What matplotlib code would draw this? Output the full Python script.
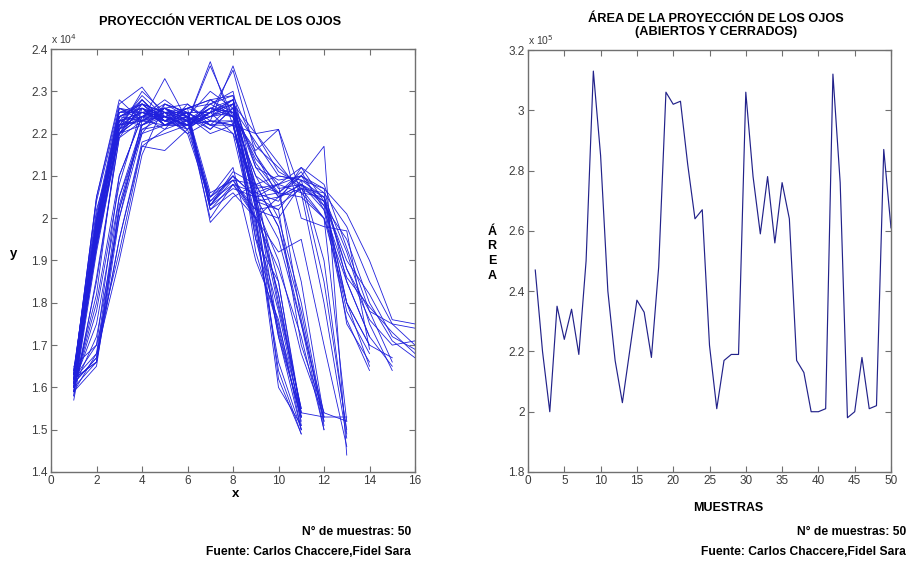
import numpy as np
import matplotlib
matplotlib.use("Agg")
import matplotlib.pyplot as plt
from matplotlib.ticker import FormatStrFormatter

plt.rcParams['font.family'] = ['Liberation Sans', 'DejaVu Sans']

# ---- left chart: vertical projection profiles (values x 10^4) ----
proyecciones = [
    # profiles that end at x = 11
    [1.62, 2.00, 2.25, 2.27, 2.25, 2.23, 2.26, 2.28, 2.02, 1.72, 1.50],
    [1.60, 1.80, 2.10, 2.24, 2.26, 2.24, 2.20, 2.22, 1.98, 1.78, 1.53],
    [1.58, 1.92, 2.20, 2.28, 2.23, 2.21, 2.25, 2.24, 2.05, 1.62, 1.49],
    [1.63, 2.05, 2.28, 2.23, 2.22, 2.22, 2.27, 2.29, 1.95, 1.75, 1.54],
    [1.61, 1.75, 2.05, 2.20, 2.27, 2.25, 2.21, 2.26, 2.08, 1.80, 1.55],
    [1.59, 1.96, 2.24, 2.26, 2.24, 2.20, 2.23, 2.23, 2.00, 1.60, 1.51],
    [1.64, 2.02, 2.21, 2.30, 2.25, 2.26, 2.24, 2.27, 1.92, 1.74, 1.52],
    [1.62, 1.70, 1.92, 2.17, 2.21, 2.23, 2.26, 2.25, 2.03, 1.82, 1.54],
    [1.60, 1.97, 2.23, 2.24, 2.28, 2.24, 2.22, 2.20, 1.97, 1.66, 1.50],
    [1.57, 1.86, 2.19, 2.27, 2.22, 2.22, 2.25, 2.28, 2.06, 1.73, 1.53],
    [1.63, 2.04, 2.26, 2.25, 2.26, 2.27, 2.23, 2.22, 1.99, 1.64, 1.49],
    [1.61, 1.99, 2.22, 2.23, 2.25, 2.21, 2.28, 2.24, 2.04, 1.79, 1.55],
    [1.65, 1.70, 2.10, 2.24, 2.23, 2.25, 2.03, 2.10, 2.05, 1.85, 1.53],
    [1.62, 1.68, 2.05, 2.22, 2.26, 2.23, 2.00, 2.08, 2.02, 1.82, 1.51],
    [1.60, 1.66, 1.95, 2.17, 2.16, 2.21, 2.05, 2.12, 1.90, 1.76, 1.50],
    [1.63, 2.05, 2.27, 2.31, 2.24, 2.25, 2.06, 2.09, 2.00, 1.72, 1.53],
    # end at x = 12
    [1.61, 1.96, 2.23, 2.25, 2.24, 2.22, 2.26, 2.24, 2.10, 2.00, 1.80, 1.52],
    [1.59, 1.93, 2.21, 2.27, 2.23, 2.24, 2.03, 2.07, 2.05, 1.95, 1.75, 1.50],
    [1.63, 1.99, 2.24, 2.23, 2.26, 2.23, 2.25, 2.28, 2.05, 2.02, 1.70, 1.54],
    [1.60, 1.78, 2.08, 2.26, 2.22, 2.25, 1.99, 2.05, 2.08, 1.98, 1.78, 1.51],
    [1.62, 1.66, 2.02, 2.21, 2.24, 2.22, 2.24, 2.26, 2.03, 1.90, 1.68, 1.53],
    [1.64, 2.01, 2.26, 2.24, 2.27, 2.25, 2.22, 2.23, 1.95, 1.85, 1.54, 1.53],
    [1.58, 1.95, 2.20, 2.22, 2.25, 2.20, 2.04, 2.10, 2.00, 1.88, 1.72, 1.50],
    [1.61, 1.97, 2.22, 2.28, 2.22, 2.23, 2.27, 2.30, 2.07, 2.08, 1.76, 1.52],
    # end at x = 13
    [1.60, 1.94, 2.21, 2.24, 2.24, 2.22, 2.23, 2.22, 2.04, 2.05, 2.10, 2.17, 1.44],
    [1.62, 1.97, 2.24, 2.26, 2.22, 2.24, 2.05, 2.09, 2.02, 2.00, 2.08, 1.85, 1.50],
    [1.59, 1.85, 2.19, 2.23, 2.26, 2.21, 2.25, 2.27, 2.06, 2.08, 2.06, 1.80, 1.48],
    [1.63, 2.00, 2.25, 2.25, 2.23, 2.26, 2.02, 2.08, 2.00, 1.92, 1.95, 1.70, 1.46],
    [1.61, 1.67, 1.95, 2.18, 2.20, 2.22, 2.26, 2.24, 2.05, 2.06, 1.85, 1.53, 1.53],
    [1.60, 1.96, 2.22, 2.29, 2.24, 2.23, 2.24, 2.25, 2.02, 2.03, 2.07, 2.00, 1.52],
    [1.62, 1.99, 2.23, 2.22, 2.25, 2.25, 2.03, 2.11, 2.08, 1.98, 1.75, 1.54, 1.52],
    [1.64, 1.95, 2.20, 2.24, 2.21, 2.27, 2.22, 2.22, 2.04, 2.02, 2.09, 1.90, 1.49],
    # end at x = 14
    [1.60, 1.82, 2.22, 2.25, 2.23, 2.22, 2.25, 2.20, 2.08, 2.10, 2.09, 2.05, 1.80, 1.70],
    [1.62, 1.98, 2.24, 2.27, 2.25, 2.24, 2.02, 2.06, 2.00, 2.05, 2.08, 2.02, 1.76, 1.64],
    [1.61, 1.93, 2.20, 2.24, 2.26, 2.23, 2.36, 2.24, 2.10, 2.06, 2.05, 2.00, 1.85, 1.72],
    [1.59, 1.65, 2.00, 2.20, 2.22, 2.24, 2.21, 2.26, 2.12, 2.09, 2.10, 2.03, 1.78, 1.68],
    [1.63, 1.99, 2.25, 2.26, 2.24, 2.26, 2.28, 2.25, 2.15, 2.05, 2.07, 2.06, 1.75, 1.66],
    [1.60, 1.96, 2.22, 2.23, 2.33, 2.23, 2.04, 2.08, 2.06, 2.04, 2.12, 2.04, 1.80, 1.65],
    [1.62, 1.97, 2.23, 2.28, 2.23, 2.25, 2.22, 2.27, 2.20, 2.21, 2.00, 1.98, 1.97, 1.69],
    # end at x = 15
    [1.61, 1.95, 2.21, 2.25, 2.24, 2.22, 2.24, 2.28, 2.12, 2.05, 2.08, 2.04, 1.88, 1.78, 1.66],
    [1.60, 1.72, 2.00, 2.23, 2.26, 2.24, 2.03, 2.09, 2.08, 2.06, 2.10, 2.07, 1.85, 1.72, 1.65],
    [1.62, 1.66, 2.02, 2.21, 2.22, 2.25, 2.25, 2.35, 2.15, 2.07, 2.08, 2.05, 1.92, 1.75, 1.64],
    [1.59, 1.94, 2.20, 2.26, 2.23, 2.23, 2.37, 2.22, 2.20, 2.13, 2.06, 2.00, 1.80, 1.70, 1.67],
    # end at x = 16
    [1.60, 1.97, 2.22, 2.24, 2.25, 2.23, 2.26, 2.25, 2.14, 2.08, 2.10, 2.06, 1.98, 1.85, 1.75, 1.74],
    [1.62, 1.95, 2.24, 2.27, 2.23, 2.26, 2.28, 2.29, 2.17, 2.12, 2.07, 2.04, 1.90, 1.82, 1.72, 1.69],
    [1.61, 1.67, 2.03, 2.22, 2.24, 2.22, 2.23, 2.36, 2.20, 2.11, 2.08, 2.03, 1.95, 1.80, 1.71, 1.67],
    [1.59, 1.68, 1.90, 2.15, 2.27, 2.24, 2.05, 2.10, 2.05, 2.08, 2.12, 2.08, 1.93, 1.78, 1.75, 1.70],
    [1.63, 1.99, 2.26, 2.23, 2.24, 2.26, 2.27, 2.24, 2.16, 2.21, 2.06, 2.05, 1.88, 1.76, 1.70, 1.71],
    [1.60, 1.94, 2.20, 2.26, 2.22, 2.24, 2.30, 2.26, 2.18, 2.10, 2.09, 2.07, 2.01, 1.90, 1.76, 1.75],
    [1.61, 1.98, 2.23, 2.25, 2.26, 2.22, 2.25, 2.27, 2.13, 2.06, 2.11, 2.02, 1.86, 1.79, 1.73, 1.68],
]

# ---- right chart: projection area per sample (values x 10^5) ----
muestras = list(range(1, 51))
area = [2.47, 2.20, 2.00, 2.35, 2.24, 2.34, 2.19, 2.50, 3.13, 2.85,
        2.40, 2.17, 2.03, 2.20, 2.37, 2.33, 2.18, 2.48, 3.06, 3.02,
        3.03, 2.82, 2.64, 2.67, 2.22, 2.01, 2.17, 2.19, 2.19, 3.06,
        2.78, 2.59, 2.78, 2.56, 2.76, 2.64, 2.17, 2.13, 2.00, 2.00,
        2.01, 3.12, 2.76, 1.98, 2.00, 2.18, 2.01, 2.02, 2.87, 2.61]

left_yticks = [1.4, 1.5, 1.6, 1.7, 1.8, 1.9, 2.0, 2.1, 2.2, 2.3, 2.4]
left_xticks = [0, 2, 4, 6, 8, 10, 12, 14, 16]
right_yticks = [1.8, 2.0, 2.2, 2.4, 2.6, 2.8, 3.0, 3.2]
right_xticks = [0, 5, 10, 15, 20, 25, 30, 35, 40, 45, 50]

axis_grey = '#707070'
tick_col = '#3c3c3c'


def matlab_axes(ax):
    for s in ax.spines.values():
        s.set_color(axis_grey)
        s.set_linewidth(1.0)
    ax.tick_params(direction='in', top=True, right=True, length=4,
                   width=0.8, color=axis_grey, labelsize=8.5,
                   labelcolor=tick_col, pad=2.5)
    ax.yaxis.set_major_formatter(FormatStrFormatter('%g'))
    ax.xaxis.set_major_formatter(FormatStrFormatter('%g'))


fig = plt.figure(figsize=(9.09, 5.63), dpi=100)

ax1 = fig.add_axes([51 / 909, 91 / 563, 364 / 909, 423 / 563])
for perfil in proyecciones:
    xs = np.arange(1, len(perfil) + 1)
    ax1.plot(xs, perfil, color='#2020dc', lw=0.6)
ax1.set_xlim(0, 16)
ax1.set_ylim(1.4, 2.4)
ax1.set_xticks(left_xticks)
ax1.set_yticks(left_yticks)
matlab_axes(ax1)
ax1.text(0.0, 1.008, r'x 10$^4$', transform=ax1.transAxes, fontsize=7.5,
         color=tick_col, ha='left', va='bottom')
ax1.set_title('PROYECCIÓN VERTICAL DE LOS OJOS', fontsize=9.2,
              fontweight='bold', x=0.464, pad=17)
ax1.set_xlabel('x', fontsize=9.5, fontweight='bold', va='center')
ax1.xaxis.set_label_coords(0.508, -0.052)
ax1.set_ylabel('y', fontsize=9.5, fontweight='bold', rotation=0,
               va='center', ha='center')
ax1.yaxis.set_label_coords(-0.102, 0.515)

ax2 = fig.add_axes([528 / 909, 91 / 563, 363 / 909, 422 / 563])
ax2.plot(muestras, area, color='#22228a', lw=0.85)
ax2.set_xlim(0, 50)
ax2.set_ylim(1.8, 3.2)
ax2.set_xticks(right_xticks)
ax2.set_yticks(right_yticks)
matlab_axes(ax2)
ax2.text(0.0, 1.008, r'x 10$^5$', transform=ax2.transAxes, fontsize=7.5,
         color=tick_col, ha='left', va='bottom')
ax2.set_title('ÁREA DE LA PROYECCIÓN DE LOS OJOS\n(ABIERTOS Y CERRADOS)',
              fontsize=9.2, fontweight='bold', x=0.518, pad=11,
              linespacing=1.05)
ax2.set_xlabel('MUESTRAS', fontsize=9, fontweight='bold', va='center')
ax2.xaxis.set_label_coords(0.551, -0.085)
ax2.set_ylabel('Á\nR\nE\nA', fontsize=9, fontweight='bold', rotation=0,
               va='center', ha='center', linespacing=1.3)
ax2.yaxis.set_label_coords(-0.099, 0.517)

# footnotes
fig.text(411 / 909, 1 - 532 / 563, 'N° de muestras: 50', fontsize=8.7,
         fontweight='bold', ha='right', va='center')
fig.text(411 / 909, 1 - 552 / 563, 'Fuente: Carlos Chaccere,Fidel Sara',
         fontsize=8.7, fontweight='bold', ha='right', va='center')
fig.text(906 / 909, 1 - 532 / 563, 'N° de muestras: 50', fontsize=8.7,
         fontweight='bold', ha='right', va='center')
fig.text(906 / 909, 1 - 552 / 563, 'Fuente: Carlos Chaccere,Fidel Sara',
         fontsize=8.7, fontweight='bold', ha='right', va='center')

fig.savefig('out.png', dpi=100)
